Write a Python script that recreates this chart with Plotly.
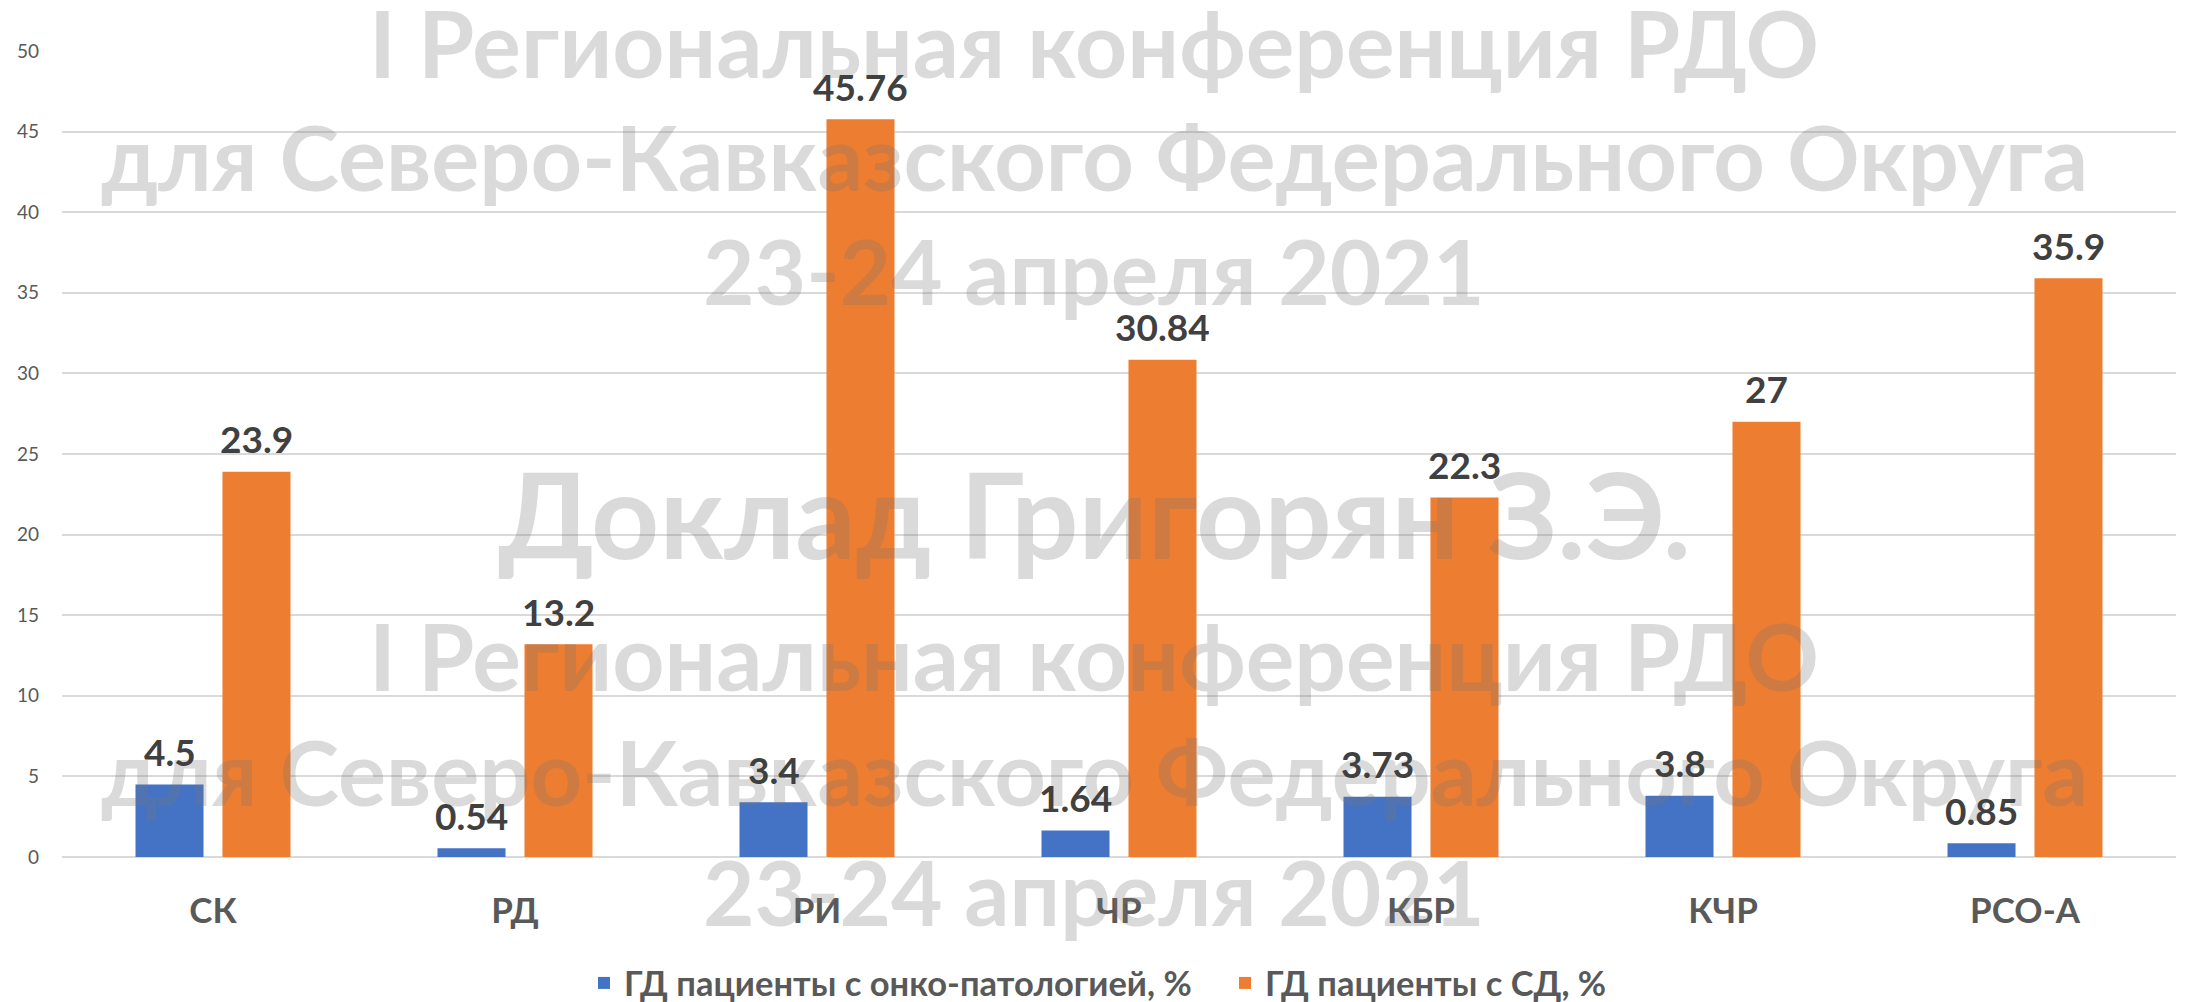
import plotly.graph_objects as go

categories = ["СК", "РД", "РИ", "ЧР", "КБР", "КЧР", "РСО-А"]
onco_values = [4.5, 0.54, 3.4, 1.64, 3.73, 3.8, 0.85]
sd_values = [23.9, 13.2, 45.76, 30.84, 22.3, 27, 35.9]
series_names = ["ГД пациенты с онко-патологией, %", "ГД пациенты с СД, %"]
y_ticks = [0, 5, 10, 15, 20, 25, 30, 35, 40, 45, 50]

watermark_lines = [
    "I Региональная конференция РДО",
    "для Северо-Кавказского Федерального Округа",
    "23-24 апреля 2021",
    "Доклад Григорян З.Э.",
    "I Региональная конференция РДО",
    "для Северо-Кавказского Федерального Округа",
    "23-24 апреля 2021",
]

FONT = "Lato"
OFF = 8  # page body margin offset in the browser
W, H = 2188 - OFF, 1002 - OFF
ML, MR, MT, MB = 62 - OFF, 12, 51 - OFF, 1002 - 857
PW, PH = W - ML - MR, H - MT - MB
BARGAP, BARGROUPGAP = 0.424, 0.218


def px_to_paper_x(px):
    # px in screenshot coordinates
    return (px - OFF - ML) / PW


def px_to_paper_y(py):
    return (H - MB - (py - OFF)) / PH


fig = go.Figure()
series = [
    (series_names[0], onco_values, "#4472C4"),
    (series_names[1], sd_values, "#ED7D31"),
]
for name, vals, color in series:
    fig.add_trace(go.Bar(
        x=categories, y=vals, name=name,
        marker=dict(color=color, line=dict(width=0)),
    ))

# watermark
wm_y = [43, 156, 270, 513, 655, 771, 892]
wm_size = [91, 90, 89, 119, 91, 90, 89]
for text, py, sz in zip(watermark_lines, wm_y, wm_size):
    fig.add_annotation(
        text=text, xref="paper", yref="paper",
        x=px_to_paper_x(1094), y=px_to_paper_y(py),
        xanchor="center", yanchor="middle", showarrow=False,
        font=dict(family=FONT, size=sz, color="rgba(120,120,120,0.27)", weight="bold"),
    )

# data labels, placed over each grouped bar
cat_px = PW / len(categories)
slot_px = (1 - BARGAP) / len(series) * cat_px
for i, (name, vals, color) in enumerate(series):
    shift = (i - (len(series) - 1) / 2) * slot_px
    for c, v in zip(categories, vals):
        fig.add_annotation(
            x=c, y=v, xref="x", yref="y", text=f"{v:g}",
            xshift=shift, yshift=33, yanchor="middle", xanchor="center",
            showarrow=False,
            font=dict(family=FONT, size=37, color="#404040", weight="bold"),
        )

fig.update_layout(
    width=W, height=H,
    margin=dict(l=ML, r=MR, t=MT, b=MB, autoexpand=False),
    paper_bgcolor="white", plot_bgcolor="white",
    barmode="group", bargap=BARGAP, bargroupgap=BARGROUPGAP,
    showlegend=True,
    legend=dict(
        orientation="h", xref="paper", yref="paper",
        x=px_to_paper_x(1225), y=px_to_paper_y(983),
        xanchor="center", yanchor="middle",
        font=dict(family=FONT, size=34.5, color="#595959", weight="bold"),
        itemsizing="constant", tracegroupgap=0,
        entrywidth=596, entrywidthmode="pixels",
    ),
    xaxis=dict(
        tickfont=dict(family=FONT, size=35, color="#595959", weight="bold"),
        showgrid=False, showline=False, ticks="", ticklabelstandoff=30,
        automargin=False,
    ),
    yaxis=dict(
        range=[0, 50], tickvals=y_ticks,
        tickfont=dict(family=FONT, size=19, color="#595959"),
        showgrid=True, gridcolor="#D9D9D9", gridwidth=2,
        zeroline=True, zerolinecolor="#D9D9D9", zerolinewidth=2,
        showline=False, ticks="", ticklabelstandoff=22,
        automargin=False,
    ),
)

fig.write_html("out.html")
